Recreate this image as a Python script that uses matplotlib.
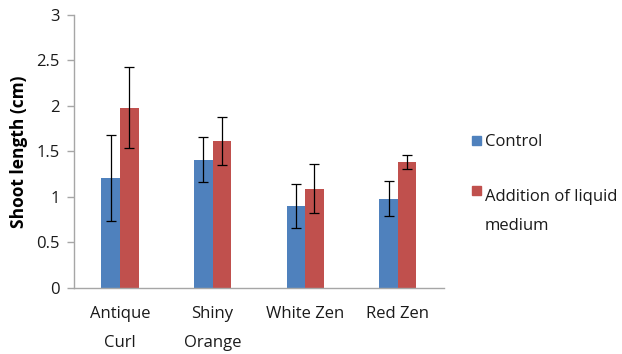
import matplotlib
matplotlib.use("Agg")
import matplotlib.pyplot as plt
import numpy as np
from matplotlib.patches import Rectangle

categories = ["Antique\nCurl", "Shiny\nOrange", "White Zen", "Red Zen"]
control = [1.21, 1.41, 0.90, 0.98]
control_err = [0.47, 0.25, 0.245, 0.19]
liquid = [1.98, 1.61, 1.09, 1.38]
liquid_err = [0.445, 0.265, 0.27, 0.077]
series_names = ["Control", "Addition of liquid\nmedium"]
yticks = [0, 0.5, 1, 1.5, 2, 2.5, 3]
ytick_labels = ["0", "0.5", "1", "1.5", "2", "2.5", "3"]

plt.rcParams['font.family'] = ['Open Sans', 'DejaVu Sans']
blue = "#4F81BD"
red = "#C0504D"
grey = "#A6A6A6"
txt = "#1a1a1a"
fs = 12

fig = plt.figure(figsize=(6.22, 3.54), dpi=100)
ax = fig.add_axes([0.1185, 0.1864, 0.5955, 0.772])

x = np.arange(len(categories))
w = 0.2
ekw = dict(ecolor="black", elinewidth=0.9, capsize=3.5, capthick=0.9)
ax.bar(x - w / 2, control, w, color=blue, yerr=control_err, error_kw=ekw, zorder=2)
ax.bar(x + w / 2, liquid, w, color=red, yerr=liquid_err, error_kw=ekw, zorder=2)

ax.set_xlim(-0.5, len(categories) - 0.5)
ax.set_ylim(0, 3)
ax.set_yticks(yticks)
ax.set_yticklabels(ytick_labels, fontsize=fs, color=txt)
ax.set_xticks(x)
ax.set_xticklabels(categories, fontsize=fs, linespacing=2.05, color=txt)
ax.tick_params(axis="x", length=0, pad=13)
ax.tick_params(axis="y", length=5, color=grey, width=1, pad=5)
for s in ["top", "right"]:
    ax.spines[s].set_visible(False)
for s in ["left", "bottom"]:
    ax.spines[s].set_color(grey)
    ax.spines[s].set_linewidth(1)
ax.set_ylabel("Shoot length (cm)", fontsize=12.5, fontweight="bold", labelpad=6)

# Legend drawn manually
W, H = 622, 354
def add_entry(px, py, color, label, ty):
    fig.patches.append(Rectangle((px / W, 1 - (py + 9) / H), 9 / W, 9 / H,
                                 transform=fig.transFigure, color=color, figure=fig))
    fig.text((px + 13) / W, 1 - ty / H, label, fontsize=fs, va="baseline",
             ha="left", linespacing=2.05, color=txt,
             transform=fig.transFigure)

add_entry(472, 136, blue, series_names[0], 146)
add_entry(472, 186, red, series_names[1], 230)

fig.savefig("out.png", dpi=100)
